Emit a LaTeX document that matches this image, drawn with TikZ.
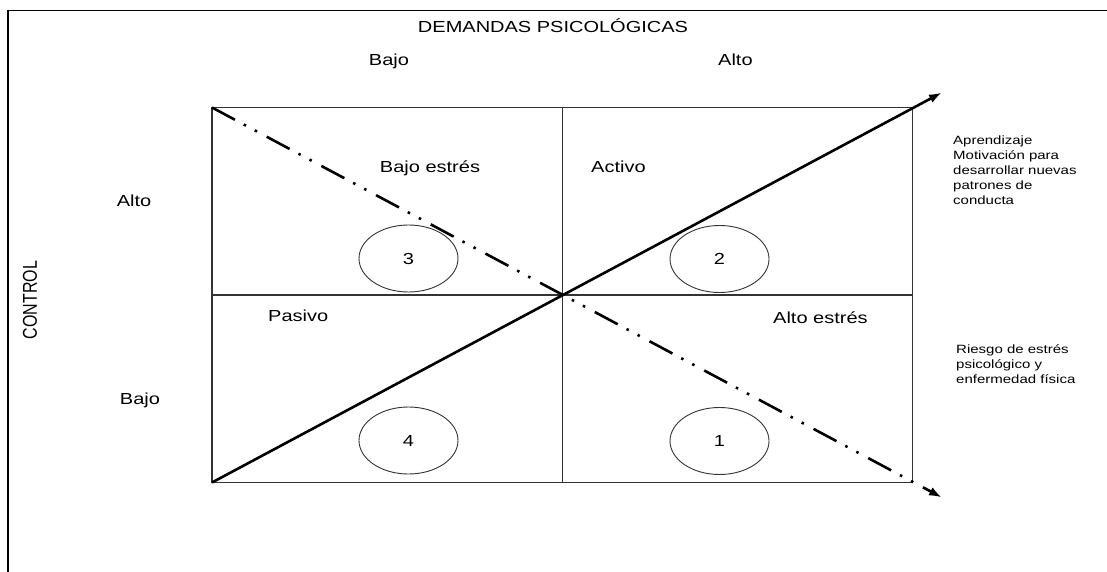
\documentclass[tikz,border=0pt]{standalone}
\usepackage{fontspec}
\setmainfont{Liberation Sans}[FakeStretch=1.25]
\newfontfamily\plainsans{Liberation Sans}
\usepackage{graphicx}
\usepackage{tikz}
\usetikzlibrary{arrows.meta,shapes.geometric}

\newcommand{\bigtxt}{\fontsize{16bp}{19bp}\selectfont}
\newcommand{\smalltxt}{\fontsize{12bp}{15bp}\selectfont}

\begin{document}
\begin{tikzpicture}[x=1bp,y=-1bp]
	\tikzset{
		gridline/.style={draw=black!80, line width=1.3bp},
		quad/.style={ellipse, draw=black!80, line width=0.9bp, minimum width=99bp, minimum height=67bp, inner sep=0pt, font=\bigtxt},
		lbl/.style={inner sep=0pt, font=\bigtxt},
		note/.style={inner sep=0pt, font=\smalltxt, align=left, anchor=north west},
		tip/.style={-{Latex[length=13bp,width=9bp]}, line width=2.6bp},
		dashdotdot/.style={dash pattern=on 26bp off 10bp on 2.5bp off 10bp on 2.5bp off 11bp}
	}
	\useasboundingbox (0,0) rectangle (1107,572);

	% frame
	\draw[line width=1.8bp] (1107,10.5) -- (8,10.5) -- (8,572);

	%---NODES---
	\coordinate (tl) at (212,107.5);
	\coordinate (tr) at (912.5,107.5);
	\coordinate (bl) at (212,482.5);
	\coordinate (br) at (912.5,482.5);
	\coordinate (tm) at (562.5,107.5);
	\coordinate (bm) at (562.5,482.5);
	\coordinate (ml) at (212,295);
	\coordinate (mr) at (912.5,295);
	\coordinate (up) at (942,92.5);
	\coordinate (down) at (942,497.5);

	\node[quad] (q3) at (408.5,258.5) {3};
	\node[quad] (q2) at (719.5,259) {2};
	\node[quad] (q4) at (408.5,440.5) {4};
	\node[quad] (q1) at (719.5,441) {1};

	%---EDGES---
	\draw[gridline] (tl) rectangle (br);
	\draw[gridline] (tm) -- (bm);
	\draw[gridline] (ml) -- (mr);
	\draw[tip] (bl) -- (up);
	\draw[tip, dashdotdot] (tl) -- (down);

	%---LABELS---
	\node[lbl, anchor=base] (demandas) at (553,32.7) {DEMANDAS PSICOLÓGICAS};
	\node[lbl, anchor=base] (dbajo) at (389,66) {Bajo};
	\node[lbl, anchor=base west] (dalto) at (718,66) {Alto};
	\node[lbl, anchor=base] (calto) at (134,207) {Alto};
	\node[lbl, anchor=base] (cbajo) at (140,404) {Bajo};
	\node[inner sep=0pt, rotate=90] (control) at (30,300) {\plainsans\bigtxt\scalebox{1}[1.25]{CONTROL}};

	\node[lbl, anchor=base] (bajoestres) at (430,173) {Bajo estrés};
	\node[lbl, anchor=base west] (activo) at (591,173) {Activo};
	\node[lbl, anchor=base west] (pasivo) at (268,322) {Pasivo};
	\node[lbl, anchor=base west] (altoestres) at (773,324) {Alto estrés};

	\node[note] (aprend) at (953,136) {Aprendizaje\\Motivación para\\desarrollar nuevas\\patrones de\\conducta};
	\node[note] (riesgo) at (956,344) {Riesgo de estrés\\psicológico y\\enfermedad física};

\end{tikzpicture}
\end{document}
